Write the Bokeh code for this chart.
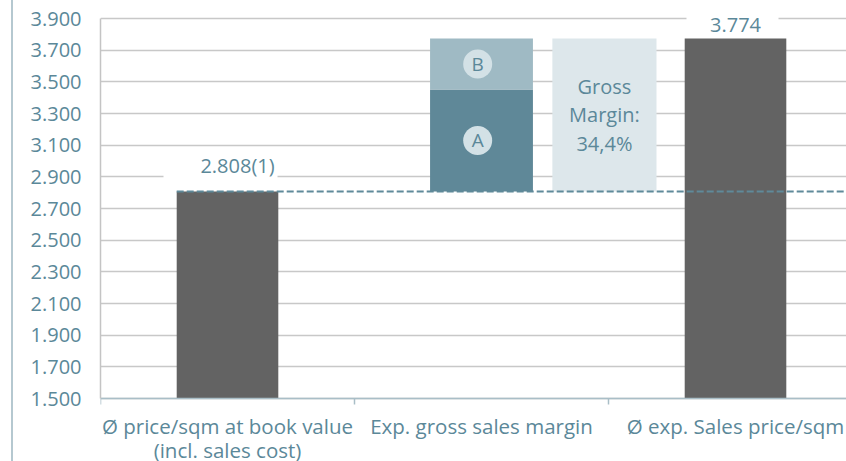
from bokeh.plotting import figure
from bokeh.models import FixedTicker, Range1d
from bokeh.core.properties import value
from bokeh.embed import file_html
from bokeh.resources import INLINE

# ---- data ----
categories = ["Ø price/sqm at book value\n(incl. sales cost)",
              "Exp. gross sales margin",
              "Ø exp. Sales price/sqm"]
book_value = 2808
margin_a = 644
margin_b = 322
sales_price = 3774
y_ticks = [1500, 1700, 1900, 2100, 2300, 2500, 2700, 2900, 3100, 3300, 3500, 3700, 3900]
y_tick_labels = ["1.500", "1.700", "1.900", "2.100", "2.300", "2.500", "2.700",
                 "2.900", "3.100", "3.300", "3.500", "3.700", "3.900"]
part_letters = ["A", "B"]

FONT = "Open Sans"
TEAL = "#5b8899"
DARK = "#636363"
AXIS = "#a9bec7"
FS = "20px"

def fmt(v):
    return f"{v:,}".replace(",", ".")

gross_pct = (sales_price - book_value) / book_value * 100
gross_text = "Gross\nMargin:\n" + f"{gross_pct:.1f}".replace(".", ",") + "%"

# layout: value axis spans 380 px (y=18..398), figure 461 px tall
H, TOP_PX, AXIS_PX = 461, 18, 398
upp = (y_ticks[-1] - y_ticks[0]) / (AXIS_PX - TOP_PX)        # data units per pixel
y_start = y_ticks[0] - (H - AXIS_PX) * upp
y_end = y_ticks[-1] + TOP_PX * upp
PX_PER_CAT = 254
x_end = -0.5 + 746 / PX_PER_CAT

p = figure(width=846, height=H,
           x_range=Range1d(-0.5, x_end), y_range=Range1d(y_start, y_end),
           output_backend="svg", toolbar_location=None, x_axis_location=None,
           min_border_left=100, min_border_right=0, min_border_top=0, min_border_bottom=0)
p.outline_line_color = None
p.border_fill_color = None
p.background_fill_color = None
p.styles = {"background": "linear-gradient(to right, white 11px, #b5c8d0 11px, #b5c8d0 13px, white 13px)"}

# grid
p.xgrid.visible = False
p.ygrid.ticker = FixedTicker(ticks=y_ticks)
p.ygrid.grid_line_color = "#c8c8c8"
p.ygrid.grid_line_width = 1.5

# y axis
p.yaxis.ticker = FixedTicker(ticks=y_ticks)
p.yaxis.bounds = (y_ticks[0], y_ticks[-1])
p.yaxis.major_label_overrides = {t: l for t, l in zip(y_ticks, y_tick_labels)}
p.yaxis.major_tick_line_color = None
p.yaxis.major_tick_out = 0
p.yaxis.minor_tick_line_color = None
p.yaxis.axis_line_color = "#c4c4c4"
p.yaxis.axis_line_width = 1.5
p.yaxis.major_label_standoff = 19
p.yaxis.major_label_text_font = FONT
p.yaxis.major_label_text_font_size = FS
p.yaxis.major_label_text_color = TEAL

# white masks behind value labels (gridline gaps)
grid_above_book = min(t for t in y_ticks if t > book_value)
p.rect(x=[0 - 7 / PX_PER_CAT, 2 - 3 / PX_PER_CAT], y=[grid_above_book, y_ticks[-1]],
       width=[114, 92], height=5, width_units="screen", height_units="screen",
       color="white", line_color=None)

# bars
p.vbar(x=[0, 2], bottom=y_ticks[0], top=[book_value, sales_price], width=0.40,
       color=DARK, line_color=None)
p.vbar(x=[1], bottom=[book_value], top=[book_value + margin_a], width=0.405,
       color="#5f8898", line_color=None)
p.vbar(x=[1], bottom=[book_value + margin_a], top=[book_value + margin_a + margin_b],
       width=0.405, color="#9fbac4", line_color=None)
p.vbar(x=[1.484], bottom=[book_value], top=[sales_price], width=0.41,
       color="#dde7eb", line_color=None)

# category axis line, boundary ticks and names
p.segment(x0=[-0.5], y0=[y_ticks[0]], x1=[x_end], y1=[y_ticks[0]],
          line_color=AXIS, line_width=1.5)
bounds_x = [i - 0.5 for i in range(len(categories))]
p.segment(x0=bounds_x, y0=[y_ticks[0]] * 3, x1=bounds_x, y1=[y_ticks[0] - 6 * upp] * 3,
          line_color=AXIS, line_width=1.5)
p.text(x=list(range(len(categories))), y=[y_ticks[0]] * 3, text=categories,
       y_offset=13, text_align="center", text_baseline="top", text_font=value(FONT),
       text_font_size="20.5px", text_color=TEAL, text_line_height=0.86)

# circles with letters
cy = [book_value + margin_a / 2, book_value + margin_a + margin_b / 2]
p.scatter(x=[0.985, 0.985], y=cy, size=29, color="#d3e1e6", line_color=None)
p.text(x=[0.985, 0.985], y=cy, text=part_letters, text_align="center",
       text_baseline="middle", text_font=value(FONT), text_font_size="19px",
       text_color=TEAL)

# gross margin text
p.text(x=[1.484], y=[(book_value + sales_price) / 2], text=[gross_text],
       text_align="center", text_baseline="middle", text_font=value(FONT),
       text_font_size=FS, text_color=TEAL, text_line_height=1.05)

# dashed reference line
p.segment(x0=[-0.2], y0=[book_value], x1=[x_end - 0.01], y1=[book_value],
          line_color="#5f8a9a", line_width=2, line_dash="7 3")

# value labels
p.text(x=[0], y=[book_value], text=[fmt(book_value) + "(1)"], x_offset=10, y_offset=-12,
       text_align="center", text_baseline="bottom", text_font=value(FONT),
       text_font_size=FS, text_color=TEAL)
p.text(x=[2], y=[sales_price], text=[fmt(sales_price)], y_offset=-6,
       text_align="center", text_baseline="bottom", text_font=value(FONT),
       text_font_size=FS, text_color=TEAL)

open("out.html", "w").write(file_html(p, INLINE))
